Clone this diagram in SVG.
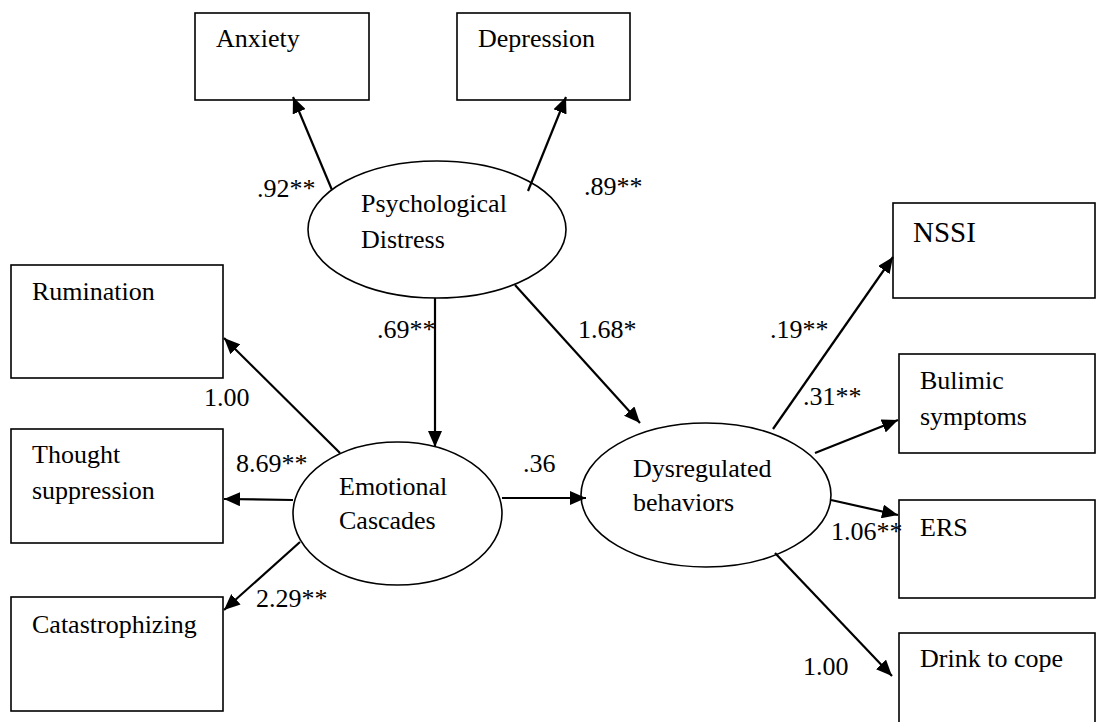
<svg xmlns="http://www.w3.org/2000/svg" width="1097" height="722" viewBox="0 0 1097 722">
<style>
.box{fill:#fff;stroke:#000;stroke-width:1.6}
.lat{fill:#fff;stroke:#000;stroke-width:1.6}
.t{font-family:"Liberation Serif","DejaVu Serif","Times New Roman",Times,serif;font-size:26px;fill:#000}
.big{font-size:29px}
.c line{stroke:#000;stroke-width:2.2;marker-end:url(#ah)}
</style>
<defs>
<marker id="ah" markerUnits="userSpaceOnUse" markerWidth="17" markerHeight="14" refX="16" refY="7" orient="auto">
<path d="M0,0 L16,7 L0,14 Z" fill="#000"/>
</marker>
</defs>
<rect width="1097" height="722" fill="#fff"/>
<g id="anxiety"><rect class="box" x="195" y="13" width="174" height="87"/><text class="t" x="216" y="47">Anxiety</text></g>
<g id="depression"><rect class="box" x="457" y="13" width="173" height="87"/><text class="t" x="478" y="47">Depression</text></g>
<g id="psych"><ellipse class="lat" cx="437" cy="229.5" rx="129" ry="68.5"/><text class="t" x="361" y="212">Psychological</text><text class="t" x="361" y="248">Distress</text></g>
<g id="rumination"><rect class="box" x="11" y="265" width="212" height="113"/><text class="t" x="32" y="300">Rumination</text></g>
<g id="thought"><rect class="box" x="11" y="429" width="212" height="114"/><text class="t" x="32" y="463">Thought</text><text class="t" x="32" y="499">suppression</text></g>
<g id="catastrophizing"><rect class="box" x="11" y="597" width="212" height="114"/><text class="t" x="32" y="633">Catastrophizing</text></g>
<g id="emotional"><ellipse class="lat" cx="397.5" cy="513.5" rx="104.5" ry="71.5"/><text class="t" x="339" y="495">Emotional</text><text class="t" x="339" y="529">Cascades</text></g>
<g id="dysreg"><ellipse class="lat" cx="706" cy="495" rx="125" ry="72"/><text class="t" x="633" y="477">Dysregulated</text><text class="t" x="633" y="511">behaviors</text></g>
<g id="nssi"><rect class="box" x="893" y="203" width="202" height="95"/><text class="t big" x="913" y="242">NSSI</text></g>
<g id="bulimic"><rect class="box" x="899" y="354" width="196" height="99"/><text class="t" x="920" y="389">Bulimic</text><text class="t" x="920" y="425">symptoms</text></g>
<g id="ers"><rect class="box" x="899" y="500" width="196" height="98"/><text class="t" x="920" y="536">ERS</text></g>
<g id="drink"><rect class="box" x="899" y="633" width="196" height="100"/><text class="t" x="920" y="667">Drink to cope</text></g>
<g id="connectors" class="c">
<line x1="332" y1="190" x2="293" y2="97"/>
<line x1="528" y1="191" x2="566" y2="97"/>
<line x1="435" y1="298" x2="435" y2="447"/>
<line x1="515" y1="285" x2="640" y2="423"/>
<line x1="340" y1="453" x2="224" y2="338"/>
<line x1="293" y1="500" x2="224" y2="499"/>
<line x1="300" y1="542" x2="224" y2="610"/>
<line x1="502" y1="498" x2="586" y2="498"/>
<line x1="773" y1="429" x2="893" y2="257"/>
<line x1="815" y1="453" x2="898" y2="420"/>
<line x1="831" y1="500" x2="898" y2="515"/>
<line x1="775" y1="553" x2="892" y2="676"/>
</g>
<g id="labels">
<text class="t" x="257" y="197">.92**</text>
<text class="t" x="584" y="195">.89**</text>
<text class="t" x="377" y="338">.69**</text>
<text class="t" x="578" y="338">1.68*</text>
<text class="t" x="204" y="406">1.00</text>
<text class="t" x="236" y="472">8.69**</text>
<text class="t" x="256" y="607">2.29**</text>
<text class="t" x="523" y="472">.36</text>
<text class="t" x="770" y="338">.19**</text>
<text class="t" x="803" y="405">.31**</text>
<text class="t" x="831" y="540">1.06**</text>
<text class="t" x="803" y="675">1.00</text>
</g>
</svg>
